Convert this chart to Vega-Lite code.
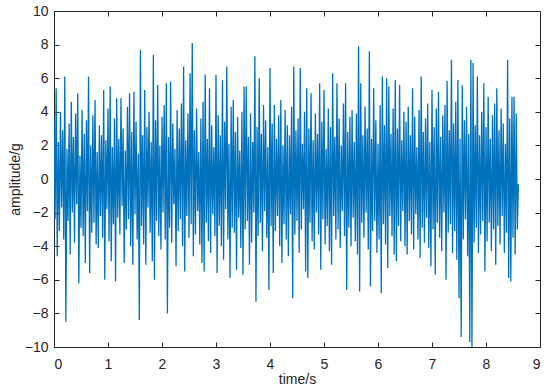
{
"$schema": "https://vega.github.io/schema/vega-lite/v6.json",
"width": 486,
"height": 336,
"autosize": {"type": "none"},
"padding": {"left": 54, "top": 11, "right": 10, "bottom": 45},
"background": "white",
"config": {
  "view": {"stroke": "#262626", "strokeWidth": 1},
  "axis": {"domain": false, "grid": false, "tickColor": "#262626", "tickSize": -5, "tickWidth": 1,
    "labelFont": "Liberation Sans", "labelFontSize": 14, "labelColor": "#262626",
    "titleFont": "Liberation Sans", "titleFontSize": 14, "titleFontWeight": "normal", "titleColor": "#262626"}
},
"data": {"values": [
{"time":0,"amp":3.7},{"time":0.02,"amp":-2.4},{"time":0.04,"amp":5.4},{"time":0.06,"amp":-4.6},{"time":0.08,"amp":2.2},{"time":0.1,"amp":-3.1},{"time":0.12,"amp":4.0},{"time":0.14,"amp":-1.7},{"time":0.16,"amp":2.9},{"time":0.18,"amp":-3.6},
{"time":0.2,"amp":6.1},{"time":0.22,"amp":-8.5},{"time":0.24,"amp":1.8},{"time":0.26,"amp":-2.5},{"time":0.28,"amp":3.3},{"time":0.3,"amp":-4.5},{"time":0.32,"amp":4.6},{"time":0.34,"amp":-2.0},{"time":0.36,"amp":2.5},{"time":0.38,"amp":-3.8},
{"time":0.4,"amp":3.9},{"time":0.42,"amp":-1.5},{"time":0.44,"amp":5.1},{"time":0.46,"amp":-6.2},{"time":0.48,"amp":1.4},{"time":0.5,"amp":-2.9},{"time":0.52,"amp":4.1},{"time":0.54,"amp":-3.4},{"time":0.56,"amp":2.7},{"time":0.58,"amp":-5.0},
{"time":0.6,"amp":3.5},{"time":0.62,"amp":-1.9},{"time":0.64,"amp":6.1},{"time":0.66,"amp":-5.6},{"time":0.68,"amp":2.0},{"time":0.7,"amp":-3.2},{"time":0.72,"amp":3.8},{"time":0.74,"amp":-2.6},{"time":0.76,"amp":4.7},{"time":0.78,"amp":-3.9},
{"time":0.8,"amp":1.6},{"time":0.82,"amp":-4.1},{"time":0.84,"amp":3.2},{"time":0.86,"amp":-2.2},{"time":0.88,"amp":2.6},{"time":0.9,"amp":-3.5},{"time":0.92,"amp":5.3},{"time":0.94,"amp":-6.0},{"time":0.96,"amp":2.3},{"time":0.98,"amp":-1.8},
{"time":1.0,"amp":4.2},{"time":1.02,"amp":-3.7},{"time":1.04,"amp":5.5},{"time":1.06,"amp":-4.9},{"time":1.08,"amp":1.9},{"time":1.1,"amp":-2.7},{"time":1.12,"amp":3.6},{"time":1.14,"amp":-6.1},{"time":1.16,"amp":4.8},{"time":1.18,"amp":-2.3},
{"time":1.2,"amp":2.4},{"time":1.22,"amp":-3.3},{"time":1.24,"amp":4.8},{"time":1.26,"amp":-1.6},{"time":1.28,"amp":3.0},{"time":1.3,"amp":-5.0},{"time":1.32,"amp":1.7},{"time":1.34,"amp":-3.0},{"time":1.36,"amp":4.3},{"time":1.38,"amp":-2.4},
{"time":1.4,"amp":5.1},{"time":1.42,"amp":-4.0},{"time":1.44,"amp":2.8},{"time":1.46,"amp":-5.1},{"time":1.48,"amp":5.2},{"time":1.5,"amp":-2.1},{"time":1.52,"amp":3.4},{"time":1.54,"amp":-3.6},{"time":1.56,"amp":1.5},{"time":1.58,"amp":-8.4},
{"time":1.6,"amp":7.7},{"time":1.62,"amp":-2.8},{"time":1.64,"amp":2.6},{"time":1.66,"amp":-3.9},{"time":1.68,"amp":5.3},{"time":1.7,"amp":-5.1},{"time":1.72,"amp":3.1},{"time":1.74,"amp":-1.7},{"time":1.76,"amp":4.0},{"time":1.78,"amp":-3.2},
{"time":1.8,"amp":2.2},{"time":1.82,"amp":-4.9},{"time":1.84,"amp":7.4},{"time":1.86,"amp":-6.0},{"time":1.88,"amp":3.5},{"time":1.9,"amp":-2.5},{"time":1.92,"amp":5.6},{"time":1.94,"amp":-3.4},{"time":1.96,"amp":2.0},{"time":1.98,"amp":-4.2},
{"time":2.0,"amp":3.7},{"time":2.02,"amp":-2.0},{"time":2.04,"amp":4.4},{"time":2.06,"amp":-3.6},{"time":2.08,"amp":5.7},{"time":2.1,"amp":-8.0},{"time":2.12,"amp":2.5},{"time":2.14,"amp":-2.9},{"time":2.16,"amp":5.8},{"time":2.18,"amp":-3.8},
{"time":2.2,"amp":3.3},{"time":2.22,"amp":-1.5},{"time":2.24,"amp":1.8},{"time":2.26,"amp":-5.2},{"time":2.28,"amp":4.1},{"time":2.3,"amp":-3.1},{"time":2.32,"amp":3.0},{"time":2.34,"amp":-2.4},{"time":2.36,"amp":4.5},{"time":2.38,"amp":-4.0},
{"time":2.4,"amp":6.7},{"time":2.42,"amp":-5.5},{"time":2.44,"amp":2.3},{"time":2.46,"amp":-2.2},{"time":2.48,"amp":3.9},{"time":2.5,"amp":-3.5},{"time":2.52,"amp":6.3},{"time":2.54,"amp":-2.7},{"time":2.56,"amp":8.1},{"time":2.58,"amp":-4.6},
{"time":2.6,"amp":2.9},{"time":2.62,"amp":-3.3},{"time":2.64,"amp":4.2},{"time":2.66,"amp":-1.9},{"time":2.68,"amp":1.6},{"time":2.7,"amp":-3.9},{"time":2.72,"amp":3.6},{"time":2.74,"amp":-5.0},{"time":2.76,"amp":4.6},{"time":2.78,"amp":-5.5},
{"time":2.8,"amp":6.2},{"time":2.82,"amp":-2.6},{"time":2.84,"amp":2.4},{"time":2.86,"amp":-3.7},{"time":2.88,"amp":5.4},{"time":2.9,"amp":-4.4},{"time":2.92,"amp":3.2},{"time":2.94,"amp":-2.1},{"time":2.96,"amp":1.9},{"time":2.98,"amp":-3.4},
{"time":3.0,"amp":6.2},{"time":3.02,"amp":-5.6},{"time":3.04,"amp":3.8},{"time":3.06,"amp":-2.8},{"time":3.08,"amp":2.6},{"time":3.1,"amp":-4.0},{"time":3.12,"amp":5.9},{"time":3.14,"amp":-4.8},{"time":3.16,"amp":3.4},{"time":3.18,"amp":-1.8},
{"time":3.2,"amp":6.7},{"time":3.22,"amp":-3.6},{"time":3.24,"amp":2.1},{"time":3.26,"amp":-5.9},{"time":3.28,"amp":4.3},{"time":3.3,"amp":-2.9},{"time":3.32,"amp":4.7},{"time":3.34,"amp":-3.2},{"time":3.36,"amp":2.8},{"time":3.38,"amp":-5.4},
{"time":3.4,"amp":3.7},{"time":3.42,"amp":-2.3},{"time":3.44,"amp":1.7},{"time":3.46,"amp":-4.1},{"time":3.48,"amp":4.0},{"time":3.5,"amp":-5.7},{"time":3.52,"amp":5.5},{"time":3.54,"amp":-3.0},{"time":3.56,"amp":5.5},{"time":3.58,"amp":-2.5},
{"time":3.6,"amp":2.5},{"time":3.62,"amp":-5.1},{"time":3.64,"amp":3.9},{"time":3.66,"amp":-3.8},{"time":3.68,"amp":2.2},{"time":3.7,"amp":-2.0},{"time":3.72,"amp":7.3},{"time":3.74,"amp":-7.3},{"time":3.76,"amp":3.1},{"time":3.78,"amp":-3.4},
{"time":3.8,"amp":6.0},{"time":3.82,"amp":-2.6},{"time":3.84,"amp":2.7},{"time":3.86,"amp":-4.3},{"time":3.88,"amp":4.4},{"time":3.9,"amp":-1.9},{"time":3.92,"amp":3.5},{"time":3.94,"amp":-3.5},{"time":3.96,"amp":1.9},{"time":3.98,"amp":-6.6},
{"time":4.0,"amp":6.6},{"time":4.02,"amp":-2.8},{"time":4.04,"amp":3.3},{"time":4.06,"amp":-5.6},{"time":4.08,"amp":4.4},{"time":4.1,"amp":-3.1},{"time":4.12,"amp":2.4},{"time":4.14,"amp":-2.2},{"time":4.16,"amp":3.8},{"time":4.18,"amp":-4.0},
{"time":4.2,"amp":4.7},{"time":4.22,"amp":-5.0},{"time":4.24,"amp":2.0},{"time":4.26,"amp":-2.7},{"time":4.28,"amp":4.1},{"time":4.3,"amp":-3.6},{"time":4.32,"amp":3.2},{"time":4.34,"amp":-4.6},{"time":4.36,"amp":2.6},{"time":4.38,"amp":-2.1},
{"time":4.4,"amp":4.3},{"time":4.42,"amp":-7.1},{"time":4.44,"amp":6.7},{"time":4.46,"amp":-3.3},{"time":4.48,"amp":2.9},{"time":4.5,"amp":-2.5},{"time":4.52,"amp":3.6},{"time":4.54,"amp":-4.4},{"time":4.56,"amp":6.6},{"time":4.58,"amp":-3.0},
{"time":4.6,"amp":2.1},{"time":4.62,"amp":-1.8},{"time":4.64,"amp":4.0},{"time":4.66,"amp":-5.5},{"time":4.68,"amp":5.4},{"time":4.7,"amp":-5.9},{"time":4.72,"amp":3.0},{"time":4.74,"amp":-2.6},{"time":4.76,"amp":5.1},{"time":4.78,"amp":-3.7},
{"time":4.8,"amp":2.3},{"time":4.82,"amp":-4.2},{"time":4.84,"amp":3.9},{"time":4.86,"amp":-2.0},{"time":4.88,"amp":2.7},{"time":4.9,"amp":-3.3},{"time":4.92,"amp":5.7},{"time":4.94,"amp":-5.4},{"time":4.96,"amp":3.4},{"time":4.98,"amp":-2.4},
{"time":5.0,"amp":5.3},{"time":5.02,"amp":-3.9},{"time":5.04,"amp":1.8},{"time":5.06,"amp":-2.8},{"time":5.08,"amp":4.2},{"time":5.1,"amp":-4.3},{"time":5.12,"amp":3.1},{"time":5.14,"amp":-5.1},{"time":5.16,"amp":6.3},{"time":5.18,"amp":-2.2},
{"time":5.2,"amp":2.5},{"time":5.22,"amp":-3.6},{"time":5.24,"amp":5.7},{"time":5.26,"amp":-3.0},{"time":5.28,"amp":3.6},{"time":5.3,"amp":-4.1},{"time":5.32,"amp":2.0},{"time":5.34,"amp":-1.9},{"time":5.36,"amp":4.5},{"time":5.38,"amp":-3.4},
{"time":5.4,"amp":5.7},{"time":5.42,"amp":-6.6},{"time":5.44,"amp":2.8},{"time":5.46,"amp":-2.9},{"time":5.48,"amp":3.7},{"time":5.5,"amp":-4.0},{"time":5.52,"amp":4.1},{"time":5.54,"amp":-2.3},{"time":5.56,"amp":2.2},{"time":5.58,"amp":-3.7},
{"time":5.6,"amp":3.9},{"time":5.62,"amp":-4.5},{"time":5.64,"amp":7.9},{"time":5.66,"amp":-6.7},{"time":5.68,"amp":5.7},{"time":5.7,"amp":-2.6},{"time":5.72,"amp":2.6},{"time":5.74,"amp":-3.5},{"time":5.76,"amp":4.3},{"time":5.78,"amp":-2.0},
{"time":5.8,"amp":3.0},{"time":5.82,"amp":-4.2},{"time":5.84,"amp":7.6},{"time":5.86,"amp":-6.4},{"time":5.88,"amp":2.4},{"time":5.9,"amp":-3.1},{"time":5.92,"amp":5.4},{"time":5.94,"amp":-2.5},{"time":5.96,"amp":3.5},{"time":5.98,"amp":-4.4},
{"time":6.0,"amp":2.1},{"time":6.02,"amp":-3.6},{"time":6.04,"amp":4.4},{"time":6.06,"amp":-6.8},{"time":6.08,"amp":6.1},{"time":6.1,"amp":-2.7},{"time":6.12,"amp":3.2},{"time":6.14,"amp":-3.9},{"time":6.16,"amp":6.0},{"time":6.18,"amp":-5.3},
{"time":6.2,"amp":5.5},{"time":6.22,"amp":-2.2},{"time":6.24,"amp":2.7},{"time":6.26,"amp":-3.4},{"time":6.28,"amp":4.2},{"time":6.3,"amp":-4.5},{"time":6.32,"amp":5.9},{"time":6.34,"amp":-4.9},{"time":6.36,"amp":3.0},{"time":6.38,"amp":-2.8},
{"time":6.4,"amp":5.6},{"time":6.42,"amp":-3.7},{"time":6.44,"amp":2.3},{"time":6.46,"amp":-1.9},{"time":6.48,"amp":4.0},{"time":6.5,"amp":-4.0},{"time":6.52,"amp":3.4},{"time":6.54,"amp":-4.5},{"time":6.56,"amp":4.3},{"time":6.58,"amp":-2.5},
{"time":6.6,"amp":2.6},{"time":6.62,"amp":-3.3},{"time":6.64,"amp":5.4},{"time":6.66,"amp":-4.2},{"time":6.68,"amp":3.7},{"time":6.7,"amp":-2.1},{"time":6.72,"amp":1.9},{"time":6.74,"amp":-3.6},{"time":6.76,"amp":4.1},{"time":6.78,"amp":-4.7},
{"time":6.8,"amp":6.1},{"time":6.82,"amp":-2.9},{"time":6.84,"amp":2.8},{"time":6.86,"amp":-3.8},{"time":6.88,"amp":3.6},{"time":6.9,"amp":-2.3},{"time":6.92,"amp":4.5},{"time":6.94,"amp":-4.1},{"time":6.96,"amp":2.2},{"time":6.98,"amp":-5.2},
{"time":7.0,"amp":5.3},{"time":7.02,"amp":-3.0},{"time":7.04,"amp":3.1},{"time":7.06,"amp":-5.7},{"time":7.08,"amp":4.2},{"time":7.1,"amp":-2.6},{"time":7.12,"amp":5.2},{"time":7.14,"amp":-3.5},{"time":7.16,"amp":2.5},{"time":7.18,"amp":-4.3},
{"time":7.2,"amp":3.8},{"time":7.22,"amp":-2.0},{"time":7.24,"amp":4.4},{"time":7.26,"amp":-6.0},{"time":7.28,"amp":5.85},{"time":7.3,"amp":-3.2},{"time":7.32,"amp":2.9},{"time":7.34,"amp":-2.7},{"time":7.36,"amp":7.1},{"time":7.38,"amp":-4.4},
{"time":7.4,"amp":3.3},{"time":7.42,"amp":-3.1},{"time":7.44,"amp":4.6},{"time":7.46,"amp":-4.8},{"time":7.48,"amp":5.9},{"time":7.5,"amp":-7.1},{"time":7.52,"amp":2.4},{"time":7.54,"amp":-9.4},{"time":7.56,"amp":5.6},{"time":7.58,"amp":-3.6},
{"time":7.6,"amp":3.5},{"time":7.62,"amp":-2.4},{"time":7.64,"amp":4.3},{"time":7.66,"amp":-4.6},{"time":7.68,"amp":2.7},{"time":7.7,"amp":-9.7},{"time":7.72,"amp":7.1},{"time":7.74,"amp":-10.2},{"time":7.76,"amp":6.9},{"time":7.78,"amp":-3.8},
{"time":7.8,"amp":3.2},{"time":7.82,"amp":-2.9},{"time":7.84,"amp":6.1},{"time":7.86,"amp":-4.4},{"time":7.88,"amp":2.6},{"time":7.9,"amp":-3.3},{"time":7.92,"amp":4.0},{"time":7.94,"amp":-2.5},{"time":7.96,"amp":5.7},{"time":7.98,"amp":-5.5},
{"time":8.0,"amp":3.1},{"time":8.02,"amp":-3.7},{"time":8.04,"amp":4.9},{"time":8.06,"amp":-2.6},{"time":8.08,"amp":2.4},{"time":8.1,"amp":-4.3},{"time":8.12,"amp":3.8},{"time":8.14,"amp":-3.0},{"time":8.16,"amp":4.5},{"time":8.18,"amp":-5.1},
{"time":8.2,"amp":5.4},{"time":8.22,"amp":-2.8},{"time":8.24,"amp":2.9},{"time":8.26,"amp":-3.9},{"time":8.28,"amp":4.2},{"time":8.3,"amp":-2.2},{"time":8.32,"amp":3.3},{"time":8.34,"amp":-4.4},{"time":8.36,"amp":2.1},{"time":8.38,"amp":-3.2},
{"time":8.4,"amp":7.1},{"time":8.42,"amp":-5.9},{"time":8.44,"amp":3.6},{"time":8.46,"amp":-6.1},{"time":8.48,"amp":4.9},{"time":8.5,"amp":-3.5},{"time":8.52,"amp":4.9},{"time":8.54,"amp":-4.5},{"time":8.56,"amp":3.9},{"time":8.58,"amp":-3.0},
{"time":8.6,"amp":-0.3}
]},
"layer": [
  {
    "mark": {"type": "line", "color": "#0072BD", "strokeWidth": 1.3, "clip": true},
    "encoding": {
      "x": {"field": "time", "type": "quantitative", "scale": {"domain": [0, 9], "nice": false},
        "axis": {"orient": "bottom", "title": "time/s", "values": [0,1,2,3,4,5,6,7,8,9], "labelPadding": 15, "titlePadding": 1}},
      "y": {"field": "amp", "type": "quantitative", "scale": {"domain": [-10, 10], "nice": false},
        "axis": {"orient": "left", "title": "amplitude/g", "values": [-10,-8,-6,-4,-2,0,2,4,6,8,10], "labelPadding": 11, "titlePadding": 2}}
    }
  },
  {
    "mark": {"type": "point", "opacity": 0},
    "encoding": {
      "x": {"field": "time", "type": "quantitative",
        "axis": {"orient": "top", "title": null, "labels": false, "values": [1,2,3,4,5,6,7,8]}},
      "y": {"field": "amp", "type": "quantitative",
        "axis": {"orient": "right", "title": null, "labels": false, "values": [-8,-6,-4,-2,0,2,4,6,8]}}
    }
  }
]
}
